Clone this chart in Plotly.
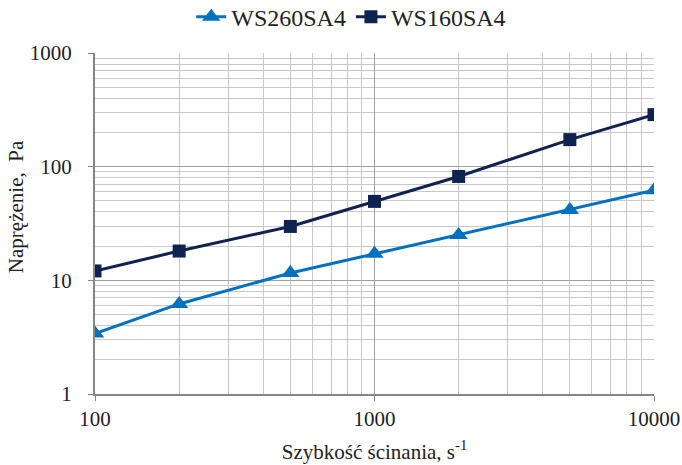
import plotly.graph_objects as go

shear_rate = [100, 200, 500, 1000, 2000, 5000, 10000]
ws260sa4 = [3.4, 6.2, 11.6, 17.1, 25, 41.5, 62]
ws160sa4 = [12.1, 18.1, 29.8, 49.5, 82, 173, 287]

x_ticks = [100, 1000, 10000]
y_ticks = [1, 10, 100, 1000]

minor_x = [m * d for d in (100, 1000) for m in range(2, 10)]
minor_y = [m * d for d in (1, 10, 100) for m in range(2, 10)]

font = "Liberation Serif"
txt = "#222222"

fig = go.Figure()
fig.add_trace(go.Scatter(
    x=shear_rate, y=ws260sa4, name="WS260SA4", mode="lines+markers",
    line=dict(color="#0070C0", width=3),
    marker=dict(symbol="triangle-up", size=16, color="#0070C0"),
))
fig.add_trace(go.Scatter(
    x=shear_rate, y=ws160sa4, name="WS160SA4", mode="lines+markers",
    line=dict(color="#10224F", width=3),
    marker=dict(symbol="square", size=13, color="#10224F"),
))

axis_common = dict(
    showline=True, linecolor="#868686", linewidth=2, mirror=False,
    gridcolor="#A0A0A0", gridwidth=1,
    ticks="outside", ticklen=5, tickcolor="#868686",
    tickfont=dict(family=font, size=21, color=txt),
    zeroline=False, automargin=False,
)

fig.update_xaxes(
    type="log", range=[2, 4], tickvals=x_ticks, ticktext=[str(v) for v in x_ticks],
    title=dict(text="Szybkość ścinania, s<sup>-1</sup>", font=dict(family=font, size=21, color=txt), standoff=14),
    minor=dict(tickvals=minor_x, showgrid=True, gridcolor="#C8C8C8", gridwidth=1, ticks=""),
    **axis_common,
)
fig.update_yaxes(
    type="log", range=[0, 3], tickvals=y_ticks, ticktext=[str(v) for v in y_ticks],
    minor=dict(tickvals=minor_y, showgrid=True, gridcolor="#C8C8C8", gridwidth=1, ticks=""),
    ticklabelstandoff=12,
    **axis_common,
)

fig.add_annotation(
    text="Naprężenie,  Pa", textangle=-90, showarrow=False,
    xref="paper", yref="paper", x=0, y=0.548, xanchor="center", yanchor="middle",
    xshift=-79, font=dict(family=font, size=21, color=txt),
)

fig.update_layout(
    width=682, height=465,
    margin=dict(l=95, r=28, t=53, b=71, autoexpand=False),
    plot_bgcolor="white", paper_bgcolor="white",
    legend=dict(orientation="h", x=0.515, xanchor="center", xref="container",
                y=0.963, yanchor="middle", yref="container",
                font=dict(family=font, size=24, color=txt)),
    showlegend=True,
)

fig.write_html("out.html")
